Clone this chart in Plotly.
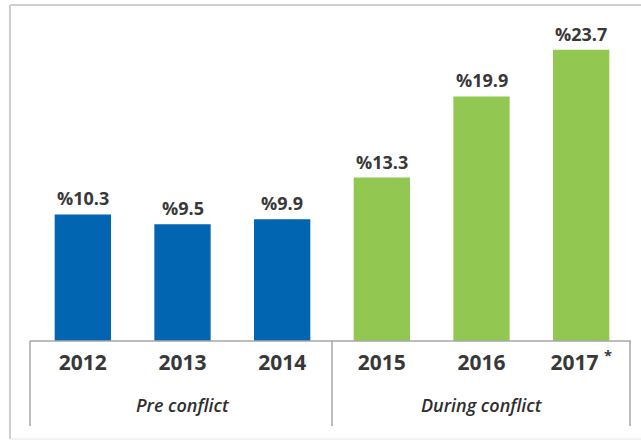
import plotly.graph_objects as go

years = ["2012", "2013", "2014", "2015", "2016", "2017"]
year_labels = ["2012", "2013", "2014", "2015", "2016", "2017 <sup>*</sup>"]
values = [10.3, 9.5, 9.9, 13.3, 19.9, 23.7]
periods = ["Pre conflict", "Pre conflict", "Pre conflict",
           "During conflict", "During conflict", "During conflict"]
group_names = ["Pre conflict", "During conflict"]
group_centers = [1, 4]

BLUE = "#0265b2"
GREEN = "#92c751"
TEXT = "#383838"
colors = [BLUE if p == "Pre conflict" else GREEN for p in periods]

W, H = 641, 440
L, R, T, B = 33, 10, 3, 99
pw, ph = W - L - R, H - T - B


def px(x):
    return (x - L) / pw


def py(y):
    return (H - B - y) / ph


fig = go.Figure()
fig.add_trace(go.Bar(
    x=list(range(len(years))), y=values,
    marker=dict(color=colors, line=dict(width=0)),
    hoverinfo="skip",
))

for i, v in enumerate(values):
    fig.add_annotation(
        x=i, y=v, xref="x", yref="y", text="<b>%" + str(v) + "</b>",
        showarrow=False, yanchor="bottom", yshift=2,
        font=dict(family="Open Sans", size=18, color=TEXT),
    )

for name, c in zip(group_names, group_centers):
    fig.add_annotation(
        x=c, y=py(405), xref="x", yref="paper", text=name,
        showarrow=False, yanchor="middle",
        font=dict(family="Open Sans", size=18, color="#2e2e2e", style="italic", weight=600),
    )

AX = "#a6a6a6"
FR = "#cfcfcf"
shapes = [
    # axis baseline
    dict(type="line", xref="paper", yref="paper", x0=px(30), x1=px(631), y0=py(341), y1=py(341),
         line=dict(color=AX, width=1.5)),
    # dividers
    dict(type="line", xref="paper", yref="paper", x0=px(30), x1=px(30), y0=py(341), y1=py(426),
         line=dict(color=AX, width=1.5)),
    dict(type="line", xref="paper", yref="paper", x0=px(332), x1=px(332), y0=py(341), y1=py(426),
         line=dict(color=AX, width=1.5)),
    dict(type="line", xref="paper", yref="paper", x0=px(630), x1=px(630), y0=py(341), y1=py(426),
         line=dict(color=AX, width=1.5)),
    # outer frame
    dict(type="line", xref="paper", yref="paper", x0=px(10), x1=px(10), y0=py(5), y1=py(439),
         line=dict(color=FR, width=2)),
    dict(type="line", xref="paper", yref="paper", x0=px(10), x1=px(645), y0=py(5), y1=py(5),
         line=dict(color=FR, width=2)),
    dict(type="line", xref="paper", yref="paper", x0=px(10), x1=px(645), y0=py(439), y1=py(439),
         line=dict(color="#e6e6e6", width=1)),
]

fig.update_layout(
    width=W, height=H,
    margin=dict(l=L, r=R, t=T, b=B),
    paper_bgcolor="white", plot_bgcolor="white",
    showlegend=False,
    bargap=0.435,
    shapes=shapes,
    xaxis=dict(
        range=[-0.5, 5.5], tickmode="array", tickvals=list(range(len(years))),
        ticktext=["<b>" + t + "</b>" for t in year_labels],
        tickfont=dict(family="Open Sans", size=21, color=TEXT),
        showline=False, showgrid=False, zeroline=False,
        ticks="outside", ticklen=3, tickcolor="rgba(0,0,0,0)",
        fixedrange=True,
    ),
    yaxis=dict(range=[0, 27.5], visible=False, fixedrange=True),
)

fig.write_html(
    "out.html",
    config={"displayModeBar": False, "staticPlot": True},
    post_script="document.body.style.margin='0';document.body.style.padding='0';",
)
